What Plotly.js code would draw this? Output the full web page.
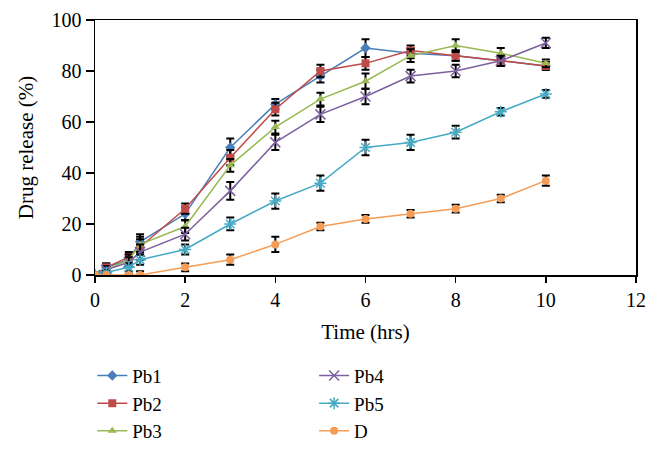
<!DOCTYPE html>
<html>
<head>
<meta charset="utf-8">
<script src="https://cdn.plot.ly/plotly-3.0.1.min.js"></script>
<style>html,body{margin:0;padding:0;background:#fff;}#chart{width:661px;height:451px;}</style>
</head>
<body>
<div id="chart"></div>
<script>
var timeHrs = [0, 0.25, 0.75, 1, 2, 3, 4, 5, 6, 7, 8, 9, 10];
var pb1 = [0, 3, 6, 13, 24, 50, 67, 78, 89, 87, 86, 84, 82];
var pb2 = [0, 3, 7, 11, 26, 46, 65, 80, 83, 88, 86, 84, 82];
var pb3 = [0, 2, 6, 12, 19, 43, 58, 69, 76, 86, 90, 87, 83];
var pb4 = [0, 2, 5, 9, 16, 33, 52, 63, 70, 78, 80, 84, 91];
var pb5 = [0, 1, 3, 6, 10, 20, 29, 36, 50, 52, 56, 64, 71];
var drugD = [0, 0, 0, 0, 3, 6, 12, 19, 22, 24, 26, 30, 37];
var errPb1 = [0, 1.5, 2, 3, 2.5, 3.5, 2, 2.5, 3.5, 2, 2, 2, 1.5];
var errPb2 = [0, 1.5, 2, 3, 2, 3, 2.5, 2.5, 2.5, 2, 2, 2, 1.5];
var errPb3 = [0, 1.5, 2, 3, 2.5, 2.5, 2.5, 2.5, 3, 2.5, 2.5, 2, 1.5];
var errPb4 = [0, 1.5, 2, 3, 2.5, 3.5, 3, 3, 3, 2.5, 2.5, 2, 2];
var errPb5 = [0, 1, 1.5, 2, 2, 2.5, 3, 3, 3, 3, 2.5, 1.5, 1.5];
var errD = [0, 0.5, 0.5, 1.5, 1.5, 2, 3, 1.5, 1.5, 1.5, 1.5, 1.5, 2];
var seriesNames = ['Pb1', 'Pb2', 'Pb3', 'Pb4', 'Pb5', 'D'];
var seriesColors = ['#4A7EBB', '#BE4B48', '#98B954', '#7D60A0', '#46AAC5', '#F59D56'];
var seriesSymbols = ['diamond', 'square', 'triangle-up', 'x-thin-open', 'asterisk-open', 'circle'];
var seriesValues = [pb1, pb2, pb3, pb4, pb5, drugD];
var seriesErrors = [errPb1, errPb2, errPb3, errPb4, errPb5, errD];

var serif = 'Liberation Serif, Times New Roman, serif';
var traces = seriesNames.map(function(name, i) {
  var open = seriesSymbols[i].indexOf('open') >= 0;
  return {
    x: timeHrs, y: seriesValues[i], name: name, type: 'scatter', mode: 'lines+markers',
    legend: i < 3 ? 'legend' : 'legend2',
    line: {color: seriesColors[i], width: 1.5},
    marker: {symbol: seriesSymbols[i], color: seriesColors[i], size: open ? 10 : 8,
             line: {width: open ? 1.5 : 0, color: seriesColors[i]}},
    error_y: {type: 'data', array: seriesErrors[i], visible: true, color: '#000', thickness: 2, width: 4}
  };
});

var legendBase = {
  orientation: 'v', yanchor: 'top', xanchor: 'left', y: -0.32,
  font: {family: serif, size: 19, color: '#000'}, bgcolor: 'rgba(0,0,0,0)', tracegroupgap: 0
};
var layout = {
  width: 661, height: 451,
  margin: {l: 95, r: 25, t: 20, b: 176, autoexpand: false},
  paper_bgcolor: '#fff', plot_bgcolor: '#fff',
  font: {family: serif, color: '#000'},
  showlegend: true,
  legend: Object.assign({}, legendBase, {x: -0.005}),
  legend2: Object.assign({}, legendBase, {x: 0.405}),
  xaxis: {
    range: [0, 12], dtick: 2, tick0: 0, showgrid: false, zeroline: false,
    showline: true, linecolor: '#000', linewidth: 1.5, mirror: true,
    ticks: 'outside', ticklen: 6, tickwidth: 1.5, tickcolor: '#000',
    tickfont: {family: serif, size: 20, color: '#000'},
    title: {text: 'Time (hrs)', font: {family: serif, size: 21, color: '#000'}, standoff: 15}
  },
  yaxis: {
    range: [0, 100], dtick: 20, showgrid: false, zeroline: false,
    showline: true, linecolor: '#000', linewidth: 1.5, mirror: true,
    ticks: 'outside', ticklen: 8, tickwidth: 1.5, tickcolor: '#000',
    tickfont: {family: serif, size: 20, color: '#000'},
    title: {text: 'Drug release (%)', font: {family: serif, size: 21, color: '#000'}, standoff: 12}
  }
};
Plotly.newPlot('chart', traces, layout, {displayModeBar: false, staticPlot: true});
</script>
</body>
</html>
